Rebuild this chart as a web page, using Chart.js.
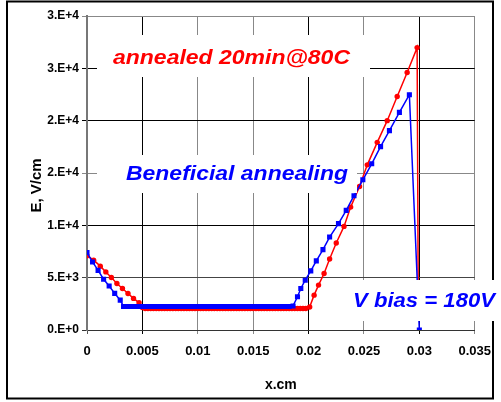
<!DOCTYPE html>
<html>
<head>
<meta charset="utf-8">
<script src="https://cdn.jsdelivr.net/npm/chart.js@4.4.1/dist/chart.umd.min.js"></script>
<style>
  html, body { margin: 0; padding: 0; background: #fff; }
  #wrap { width: 501px; height: 402px; }
</style>
</head>
<body>
<div id="wrap"><canvas id="myChart" width="501" height="402"></canvas></div>
<script>
// tick labels as printed on the chart
const xTickLabels = ["0", "0.005", "0.01", "0.015", "0.02", "0.025", "0.03", "0.035"];
const yTickLabels = ["0.E+0", "5.E+3", "1.E+4", "2.E+4", "2.E+4", "3.E+4", "3.E+4"];

// Beneficial annealing (blue squares)
const blueX = [0, 0.0005, 0.001, 0.0015, 0.002, 0.0025, 0.003, 0.0033,
  0.0035, 0.00375, 0.004, 0.00425, 0.0045, 0.00475, 0.005, 0.00525, 0.0055, 0.00575,
  0.006, 0.00625, 0.0065, 0.00675, 0.007, 0.00725, 0.0075, 0.00775, 0.008, 0.00825,
  0.0085, 0.00875, 0.009, 0.00925, 0.0095, 0.00975, 0.01, 0.01025, 0.0105, 0.01075,
  0.011, 0.01125, 0.0115, 0.01175, 0.012, 0.01225, 0.0125, 0.01275, 0.013, 0.01325,
  0.0135, 0.01375, 0.014, 0.01425, 0.0145, 0.01475, 0.015, 0.01525, 0.0155, 0.01575,
  0.016, 0.01625, 0.0165, 0.01675, 0.017, 0.01725, 0.0175, 0.01775, 0.018, 0.01825,
  0.0186, 0.019, 0.0193, 0.0197, 0.0202, 0.0207, 0.0213, 0.0219, 0.0227, 0.0234,
  0.0241, 0.0249, 0.0257, 0.0265, 0.0273, 0.0282, 0.0291, 0.03];
const blueY = [7400, 6500, 5700, 4850, 4200, 3500, 2850, 2250,
  2250, 2250, 2250, 2250, 2250, 2250, 2250, 2250, 2250, 2250,
  2250, 2250, 2250, 2250, 2250, 2250, 2250, 2250, 2250, 2250,
  2250, 2250, 2250, 2250, 2250, 2250, 2250, 2250, 2250, 2250,
  2250, 2250, 2250, 2250, 2250, 2250, 2250, 2250, 2250, 2250,
  2250, 2250, 2250, 2250, 2250, 2250, 2250, 2250, 2250, 2250,
  2250, 2250, 2250, 2250, 2250, 2250, 2250, 2250, 2250, 2250,
  2300, 3170, 3970, 4760, 5650, 6600, 7680, 8880, 10160, 11430,
  12830, 14350, 15880, 17520, 19050, 20790, 22480, 0];

// annealed 20min@80C (red circles)
const redX = [0, 0.0006, 0.0012, 0.0017, 0.0022, 0.0027, 0.0032, 0.0037, 0.0042, 0.0047, 0.005,
  0.00525, 0.0055, 0.00575, 0.006, 0.00625, 0.0065, 0.00675, 0.007, 0.00725, 0.0075,
  0.00775, 0.008, 0.00825, 0.0085, 0.00875, 0.009, 0.00925, 0.0095, 0.00975, 0.01,
  0.01025, 0.0105, 0.01075, 0.011, 0.01125, 0.0115, 0.01175, 0.012, 0.01225, 0.0125,
  0.01275, 0.013, 0.01325, 0.0135, 0.01375, 0.014, 0.01425, 0.0145, 0.01475, 0.015,
  0.01525, 0.0155, 0.01575, 0.016, 0.01625, 0.0165, 0.01675, 0.017, 0.01725, 0.0175,
  0.01775, 0.018, 0.01825, 0.0185, 0.01875, 0.019, 0.01925, 0.0195, 0.01975,
  0.0201, 0.0205, 0.0209, 0.0214, 0.0219, 0.0225, 0.0232, 0.0238, 0.0246, 0.0253,
  0.0262, 0.0271, 0.028, 0.0289, 0.0298, 0.0299];
const redY = [7100, 6670, 6100, 5550, 5020, 4440, 3970, 3490, 3020, 2600, 2150,
  2050, 2050, 2050, 2050, 2050, 2050, 2050, 2050, 2050, 2050,
  2050, 2050, 2050, 2050, 2050, 2050, 2050, 2050, 2050, 2050,
  2050, 2050, 2050, 2050, 2050, 2050, 2050, 2050, 2050, 2050,
  2050, 2050, 2050, 2050, 2050, 2050, 2050, 2050, 2050, 2050,
  2050, 2050, 2050, 2050, 2050, 2050, 2050, 2050, 2050, 2050,
  2050, 2050, 2050, 2050, 2050, 2050, 2050, 2050, 2050,
  2200, 3330, 4290, 5400, 6790, 8310, 9900, 11740, 13710, 15780,
  17930, 20000, 22310, 24600, 26980, 3000];

function toPoints(xs, ys) {
  var pts = [];
  for (var i = 0; i < xs.length; i++) {
    pts.push({ x: xs[i], y: ys[i] });
  }
  return pts;
}

// grid line shades, picked per tick from the picture
const xGridColors = ["#555", "#000", "#888", "#888", "#000", "#888", "#000", "#888"];
const yGridColors = ["#333", "#444", "#000", "#888", "#000", "#000", "#888"];

// white boxes with the chart texts
const notes = [
  { text: "annealed 20min@80C", color: "#ff0000", box: [97, 35, 370, 77], x: 113, y: 64, w: 237 },
  { text: "Beneficial annealing", color: "#0000ff", box: [97, 155, 357, 193], x: 126, y: 180, w: 222 },
  { text: "V bias = 180V", color: "#0000ff", box: [345, 280, 501, 321], x: 353, y: 307, w: 142 }
];

const frame = {
  id: "frame",
  beforeDraw(chart) {
    const c = chart.ctx;
    c.save();
    c.fillStyle = "#fff";
    c.fillRect(0, 0, chart.width, chart.height);
    c.strokeStyle = "#000";
    c.lineWidth = 2;
    c.strokeRect(7, 1.5, 486, 397);
    c.restore();
  },
  afterDatasetsDraw(chart) {
    const c = chart.ctx;
    c.save();
    notes.forEach(n => {
      c.fillStyle = "#fff";
      c.fillRect(n.box[0], n.box[1], n.box[2] - n.box[0], n.box[3] - n.box[1]);
      c.font = "italic bold 20px 'Liberation Sans', Arial, sans-serif";
      c.fillStyle = n.color;
      c.textBaseline = "alphabetic";
      const m = c.measureText(n.text).width;
      c.save();
      c.translate(n.x, n.y);
      c.scale(n.w / m, 1);
      c.fillText(n.text, 0, 0);
      c.restore();
    });
    c.restore();
  }
};

function makeChart() {
  new Chart("myChart", {
    type: "line",
    data: {
      datasets: [{
        label: "Beneficial annealing",
        data: toPoints(blueX, blueY),
        borderColor: "#0000ff",
        backgroundColor: "#0000ff",
        borderWidth: 1.5,
        pointStyle: "rect",
        pointRadius: 3.6,
        pointBorderWidth: 0,
        tension: 0
      }, {
        label: "annealed 20min@80C",
        data: toPoints(redX, redY),
        borderColor: "#ff0000",
        backgroundColor: "#ff0000",
        borderWidth: 1.5,
        pointStyle: "circle",
        pointRadius: 2.7,
        pointBorderWidth: 0,
        tension: 0
      }]
    },
    options: {
      responsive: false,
      animation: false,
      layout: { padding: { left: 0, top: 16, right: 22, bottom: 0 } },
      plugins: {
        legend: { display: false },
        tooltip: { enabled: false }
      },
      scales: {
        x: {
          type: "linear",
          min: 0,
          max: 0.035,
          afterFit: s => { s.height = 72; },
          afterBuildTicks: s => { s.ticks = xTickLabels.map((t, i) => ({ value: i * 0.005 })); },
          ticks: {
            callback: (v, i) => xTickLabels[i],
            font: { family: "'Liberation Sans Narrow', 'Liberation Sans', Arial", size: 13, weight: "bold" },
            color: "#000",
            maxRotation: 0,
            padding: 10
          },
          grid: {
            color: c => xGridColors[c.index] || "#888",
            lineWidth: 1,
            tickLength: 4
          },
          border: { color: "#333", width: 1 },
          title: {
            display: true,
            text: "x.cm",
            color: "#000",
            font: { family: "'Liberation Sans', Arial", size: 14, weight: "bold" },
            padding: { top: 0, bottom: 8 }
          }
        },
        y: {
          min: 0,
          max: 30000,
          afterFit: s => { s.width = 87; },
          ticks: {
            stepSize: 5000,
            callback: (v, i) => yTickLabels[i],
            font: { family: "'Liberation Sans', Arial", size: 12, weight: "bold" },
            color: "#000",
            padding: 3
          },
          grid: {
            color: c => yGridColors[c.index] || "#888",
            lineWidth: 1,
            tickLength: 5
          },
          border: { color: "#777", width: 2 },
          title: {
            display: true,
            text: "E, V/cm\u00a0\u00a0\u00a0\u00a0\u00a0\u00a0",
            color: "#000",
            font: { family: "'Liberation Sans', Arial", size: 15, weight: "bold" },
            padding: { top: 28, bottom: 0 }
          }
        }
      }
    },
    plugins: [frame]
  });
}

onload = (event) => {
  makeChart();
};
</script>
</body>
</html>
